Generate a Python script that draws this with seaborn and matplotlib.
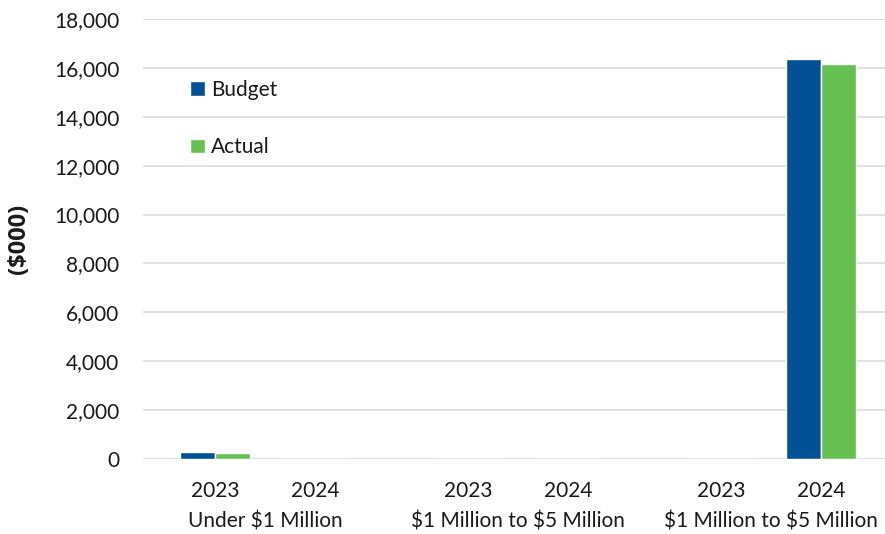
import matplotlib
matplotlib.use("Agg")
import matplotlib.pyplot as plt
import matplotlib.transforms as mtransforms
import pandas as pd
import seaborn as sns

# Data ($000)
groups = ["Under \\$1 Million", "\\$1 Million to \\$5 Million", "\\$1 Million to \\$5 Million"]
years = ["2023", "2024"]
budget = [270, 0, 0, 0, 0, 16360]
actual = [230, 0, 0, 0, 0, 16160]
series = ["Budget", "Actual"]
colors = {"Budget": "#025194", "Actual": "#66C152"}

# Category positions: years within a group sit one unit apart, groups are separated by a wider gap
group_step = 2.53
rows = []
labels_x = []
for gi, g in enumerate(groups):
    for yi, yr in enumerate(years):
        idx = gi * len(years) + yi
        pos = gi * group_step + yi
        labels_x.append((pos, yr))
        rows.append({"pos": pos, "series": "Budget", "value": budget[idx]})
        rows.append({"pos": pos, "series": "Actual", "value": actual[idx]})
df = pd.DataFrame(rows)

sns.set_theme(style="white")
plt.rcParams["font.family"] = ["Lato", "DejaVu Sans"]
FS = 15
TXT = "#1a1a1a"

fig = plt.figure(figsize=(8.85, 5.34), dpi=100)
ax = fig.add_axes([143 / 885, 1 - 459 / 534, 1 - 143 / 885, 440 / 534])

sns.barplot(data=df, x="pos", y="value", hue="series", hue_order=series,
            palette=colors, native_scale=True, width=0.7, dodge=True,
            saturation=1, errorbar=None, ax=ax, legend=True)

ax.set_ylim(0, 18000)
ax.set_xlim(-0.72, 6.7)
ax.set_yticks(range(0, 18001, 2000))
ax.yaxis.set_major_formatter(matplotlib.ticker.FuncFormatter(lambda v, p: f"{int(v):,}"))
ax.grid(axis="y", color="#d9d9d9", linewidth=1.1)
ax.grid(axis="x", visible=False)
ax.set_axisbelow(True)
for s in ax.spines.values():
    s.set_visible(False)

ax.set_xticks([p for p, _ in labels_x])
ax.set_xticklabels([t for _, t in labels_x])
ax.tick_params(axis="x", length=0, pad=16, labelsize=FS, labelcolor=TXT)
ax.tick_params(axis="y", length=0, pad=17, labelsize=FS, labelcolor=TXT)
ax.set_xlabel("")
ax.set_ylabel("($000)", fontsize=17, fontweight="bold", color=TXT,
              family=["Open Sans", "DejaVu Sans"])
ax.yaxis.set_label_coords((31 - 143) / 742, 0.5)

# Group labels under the year labels
trans = mtransforms.blended_transform_factory(ax.transData, ax.transAxes)
for gi, g in enumerate(groups):
    center = gi * group_step + 0.5
    ax.text(center, 0, g,
            transform=trans + mtransforms.ScaledTranslation(0, -62 / 100, fig.dpi_scale_trans),
            ha="center", va="center", fontsize=FS, color=TXT)

leg = ax.legend(loc="upper left", bbox_to_anchor=(0.063, 0.862), frameon=False,
                fontsize=FS, handlelength=0.72, handleheight=0.72, handletextpad=0.3,
                labelspacing=1.8, borderpad=0, borderaxespad=0)
for t in leg.get_texts():
    t.set_color(TXT)

fig.savefig("out.png", dpi=100)
